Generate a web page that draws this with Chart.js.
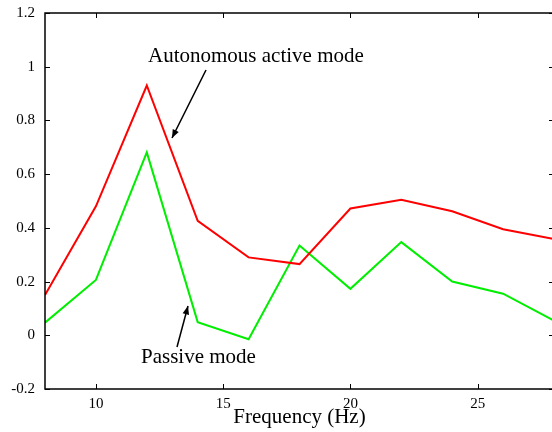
<!DOCTYPE html>
<html lang="en">
<head>
    <meta charset="UTF-8">
    <title>Frequency response</title>
    <script src="https://cdn.jsdelivr.net/npm/chart.js"></script>
    <style>
        html, body { margin: 0; padding: 0; overflow: hidden; background: #fff; }
    </style>
</head>
<body>
    <canvas id="freqChart" width="556" height="432"></canvas>

    <script>
        // values
        const frequencies = [8, 10, 12, 14, 16, 18, 20, 22, 24, 26, 28];
        const activeMode = [0.15, 0.48, 0.93, 0.426, 0.29, 0.265, 0.472, 0.505, 0.462, 0.395, 0.358];
        const passiveMode = [0.047, 0.206, 0.681, 0.049, -0.015, 0.334, 0.173, 0.347, 0.2, 0.155, 0.055];
        const xTickValues = [10, 15, 20, 25];
        const yTickValues = [-0.2, 0, 0.2, 0.4, 0.6, 0.8, 1, 1.2];

        const serif = '"Liberation Serif", "Times New Roman", serif';

        const toPoints = (ys) => frequencies.map((f, i) => ({ x: f, y: ys[i] }));

        function arrow(ctx, x1, y1, x2, y2) {
            const ang = Math.atan2(y2 - y1, x2 - x1);
            const len = 9, wid = 0.38;
            ctx.beginPath();
            ctx.moveTo(x1, y1);
            ctx.lineTo(x2, y2);
            ctx.stroke();
            ctx.beginPath();
            ctx.moveTo(x2, y2);
            ctx.lineTo(x2 - len * Math.cos(ang - wid), y2 - len * Math.sin(ang - wid));
            ctx.lineTo(x2 - len * Math.cos(ang + wid), y2 - len * Math.sin(ang + wid));
            ctx.closePath();
            ctx.fill();
        }

        // frame with inward ticks + the two text labels with arrows
        const framePlugin = {
            id: 'frame',
            afterDatasetsDraw(chart) {
                const { ctx, chartArea: a, scales } = chart;
                ctx.save();
                ctx.strokeStyle = '#000';
                ctx.lineWidth = 1;
                const tl = 5;
                ctx.beginPath();
                xTickValues.forEach(v => {
                    const px = Math.round(scales.x.getPixelForValue(v)) + 0.5;
                    ctx.moveTo(px, a.bottom); ctx.lineTo(px, a.bottom - tl);
                    ctx.moveTo(px, a.top); ctx.lineTo(px, a.top + tl);
                });
                yTickValues.forEach(v => {
                    const py = Math.round(scales.y.getPixelForValue(v)) + 0.5;
                    ctx.moveTo(a.left, py); ctx.lineTo(a.left + tl, py);
                    ctx.moveTo(a.right, py); ctx.lineTo(a.right - tl, py);
                });
                ctx.stroke();

                ctx.lineWidth = 1.5;
                ctx.strokeRect(a.left, a.top, a.right - a.left, a.bottom - a.top);

                ctx.fillStyle = '#000';
                ctx.font = '21px ' + serif;
                ctx.textBaseline = 'alphabetic';
                ctx.textAlign = 'left';
                ctx.fillText('Autonomous active mode', 148, 62);
                ctx.fillText('Passive mode', 141, 363);

                ctx.lineWidth = 1.5;
                arrow(ctx, 206, 70, 172, 138);
                arrow(ctx, 177, 347, 188, 306);
                ctx.restore();
            }
        };

        const ctx = document.getElementById('freqChart').getContext('2d');
        const freqChart = new Chart(ctx, {
            type: 'line',
            data: {
                datasets: [
                    {
                        label: 'Autonomous active mode',
                        data: toPoints(activeMode),
                        borderColor: '#ff0000',
                        borderWidth: 2,
                        pointRadius: 0,
                        tension: 0
                    },
                    {
                        label: 'Passive mode',
                        data: toPoints(passiveMode),
                        borderColor: '#00ee00',
                        borderWidth: 2,
                        pointRadius: 0,
                        tension: 0
                    }
                ]
            },
            options: {
                responsive: false,
                animation: false,
                layout: { padding: { left: 0, right: 2, top: 13, bottom: 0 } },
                plugins: {
                    legend: { display: false },
                    tooltip: { enabled: false }
                },
                scales: {
                    x: {
                        type: 'linear',
                        min: 8,
                        max: 28,
                        border: { display: false },
                        grid: { display: false, drawTicks: false },
                        afterBuildTicks: (s) => { s.ticks = xTickValues.map(v => ({ value: v })); },
                        afterFit: (s) => { s.height = 43; s.paddingLeft = 0; s.paddingRight = 0; },
                        ticks: {
                            padding: 6,
                            color: '#000',
                            font: { family: serif, size: 15 }
                        },
                        title: {
                            display: true,
                            text: 'Frequency (Hz)',
                            color: '#000',
                            font: { family: serif, size: 21 },
                            padding: { top: 0, bottom: 2 }
                        }
                    },
                    y: {
                        min: -0.2,
                        max: 1.2,
                        border: { display: false },
                        grid: { display: false, drawTicks: false },
                        afterBuildTicks: (s) => { s.ticks = yTickValues.map(v => ({ value: v })); },
                        afterFit: (s) => { s.width = 45; s.paddingTop = 0; s.paddingBottom = 0; },
                        ticks: {
                            padding: 10,
                            color: '#000',
                            font: { family: serif, size: 15 },
                            callback: (v) => String(Math.round(v * 10) / 10)
                        }
                    }
                }
            },
            plugins: [framePlugin]
        });
    </script>
</body>
</html>
